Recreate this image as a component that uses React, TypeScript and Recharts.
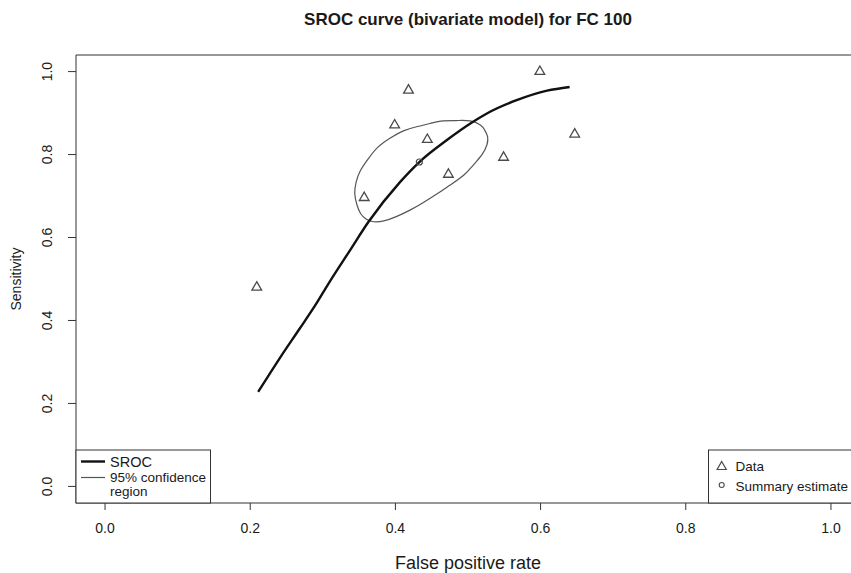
import { ComposedChart, Line, Scatter, XAxis, YAxis, ReferenceArea } from 'recharts';

// study data (triangles)
const studyFpr = [0.209, 0.357, 0.399, 0.418, 0.444, 0.473, 0.549, 0.599, 0.647];
const studySens = [0.480, 0.696, 0.871, 0.955, 0.836, 0.752, 0.793, 1.0, 0.849];

// summary estimate (circle)
const summaryFpr = [0.433];
const summarySens = [0.782];

// SROC curve
const srocFpr = [0.211, 0.241, 0.268, 0.289, 0.31, 0.337, 0.363, 0.406, 0.433, 0.471, 0.507, 0.526, 0.567, 0.609, 0.64];
const srocSens = [0.228, 0.31, 0.38, 0.435, 0.495, 0.568, 0.638, 0.733, 0.782, 0.835, 0.879, 0.899, 0.931, 0.954, 0.963];

// 95% confidence region (closed: last point = first point)
const ellipseFpr = [
  0.448, 0.466, 0.484, 0.503, 0.517, 0.523, 0.527, 0.526, 0.519, 0.507, 0.494, 0.475, 0.457, 0.438, 0.42,
  0.402, 0.384, 0.37, 0.36, 0.352, 0.347, 0.344, 0.346, 0.352, 0.363, 0.376, 0.393, 0.411, 0.429, 0.448,
];
const ellipseSens = [
  0.875, 0.881, 0.882, 0.881, 0.871, 0.859, 0.843, 0.823, 0.799, 0.774, 0.75, 0.726, 0.705, 0.684, 0.666,
  0.651, 0.64, 0.638, 0.644, 0.658, 0.679, 0.706, 0.734, 0.762, 0.791, 0.818, 0.84, 0.857, 0.867, 0.875,
];

const ticks = [0, 0.2, 0.4, 0.6, 0.8, 1.0];

const title = 'SROC curve (bivariate model) for FC 100';
const xLabel = 'False positive rate';
const yLabel = 'Sensitivity';

const studyData = studyFpr.map((x, i) => ({ x, y: studySens[i] }));
const summaryData = summaryFpr.map((x, i) => ({ x, y: summarySens[i] }));
const srocData = srocFpr.map((x, i) => ({ x, y: srocSens[i] }));
const ellipseData = ellipseFpr.map((x, i) => ({ x, y: ellipseSens[i] }));

const FONT = '"Liberation Sans", Arial, Helvetica, sans-serif';
const TEXT = '#1a1a1a';

const Triangle = (props: any) => {
  const { cx, cy } = props;
  if (cx == null || cy == null) return null;
  const r = 5.6;
  const h = r * 0.866;
  return (
    <polygon
      points={`${cx},${cy - r} ${cx + h},${cy + r / 2} ${cx - h},${cy + r / 2}`}
      fill="none"
      stroke="#4a4a4a"
      strokeWidth={1.3}
    />
  );
};

const SmallCircle = (props: any) => {
  const { cx, cy } = props;
  if (cx == null || cy == null) return null;
  return <circle cx={cx} cy={cy} r={3} fill="none" stroke="#4a4a4a" strokeWidth={1.2} />;
};

const XTick = (props: any) => {
  const { x, payload } = props;
  return (
    <text x={x} y={533} textAnchor="middle" fontSize={14} fontFamily={FONT} fill={TEXT}>
      {Number(payload.value).toFixed(1)}
    </text>
  );
};

const YTick = (props: any) => {
  const { y, payload } = props;
  return (
    <text
      transform={`translate(52, ${y}) rotate(-90)`}
      textAnchor="middle"
      fontSize={14}
      fontFamily={FONT}
      fill={TEXT}
    >
      {Number(payload.value).toFixed(1)}
    </text>
  );
};

export default function App() {
  return (
    <div
      style={{
        position: 'fixed',
        left: 0,
        top: 0,
        width: 851,
        height: 573,
        overflow: 'hidden',
        background: '#fff',
        fontFamily: FONT,
      }}
    >
      <ComposedChart width={880} height={573} margin={{ top: 55, right: 20, bottom: 0, left: 0 }}>
        <XAxis
          type="number"
          dataKey="x"
          domain={[-0.04, 1.04]}
          ticks={ticks}
          allowDataOverflow
          axisLine={false}
          tickLine={{ stroke: '#333' }}
          tickSize={7}
          height={70}
          tick={<XTick />}
        />
        <YAxis
          type="number"
          dataKey="y"
          domain={[-0.04, 1.04]}
          ticks={ticks}
          allowDataOverflow
          axisLine={false}
          tickLine={{ stroke: '#333' }}
          tickSize={8}
          width={76}
          tick={<YTick />}
        />
        <ReferenceArea x1={-0.04} x2={1.04} y1={-0.04} y2={1.04} fill="none" stroke="#333" strokeWidth={1} />
        <Line
          data={ellipseData}
          dataKey="y"
          type="natural"
          stroke="#555"
          strokeWidth={1.2}
          dot={false}
          isAnimationActive={false}
        />
        <Line
          data={srocData}
          dataKey="y"
          type="monotone"
          stroke="#111"
          strokeWidth={2.4}
          dot={false}
          isAnimationActive={false}
        />
        <Scatter data={studyData} dataKey="y" shape={<Triangle />} isAnimationActive={false} />
        <Scatter data={summaryData} dataKey="y" shape={<SmallCircle />} isAnimationActive={false} />
      </ComposedChart>

      <svg width={851} height={573} style={{ position: 'absolute', left: 0, top: 0, pointerEvents: 'none' }}>
        <text x={468} y={25} textAnchor="middle" fontSize={17} fontWeight="bold" fontFamily={FONT} fill={TEXT}>
          {title}
        </text>
        <text x={468} y={569} textAnchor="middle" fontSize={18} fontFamily={FONT} fill={TEXT}>
          {xLabel}
        </text>
        <text
          transform="translate(21, 279) rotate(-90)"
          textAnchor="middle"
          fontSize={14}
          fontFamily={FONT}
          fill={TEXT}
        >
          {yLabel}
        </text>

        {/* left legend */}
        <rect x={76} y={450} width={134.5} height={53} fill="#fff" stroke="#333" strokeWidth={1} />
        <line x1={81} y1={461.5} x2={105} y2={461.5} stroke="#111" strokeWidth={2.4} />
        <text x={110} y={467} fontSize={14.5} fontFamily={FONT} fill={TEXT}>SROC</text>
        <line x1={81} y1={477.5} x2={105} y2={477.5} stroke="#555" strokeWidth={1.2} />
        <text x={110} y={482} fontSize={13.5} fontFamily={FONT} fill={TEXT}>95% confidence</text>
        <text x={110} y={496} fontSize={13.5} fontFamily={FONT} fill={TEXT}>region</text>

        {/* right legend */}
        <rect x={708.5} y={450} width={160} height={53} fill="#fff" stroke="#333" strokeWidth={1} />
        <polygon points="721.7,461.5 726.3,469.5 717.1,469.5" fill="none" stroke="#4a4a4a" strokeWidth={1.2} />
        <text x={735.5} y={471} fontSize={13.5} fontFamily={FONT} fill={TEXT}>Data</text>
        <circle cx={721.7} cy={485} r={2.5} fill="none" stroke="#4a4a4a" strokeWidth={1.1} />
        <text x={735.5} y={491} fontSize={13.5} fontFamily={FONT} fill={TEXT}>Summary estimate</text>
      </svg>
    </div>
  );
}
